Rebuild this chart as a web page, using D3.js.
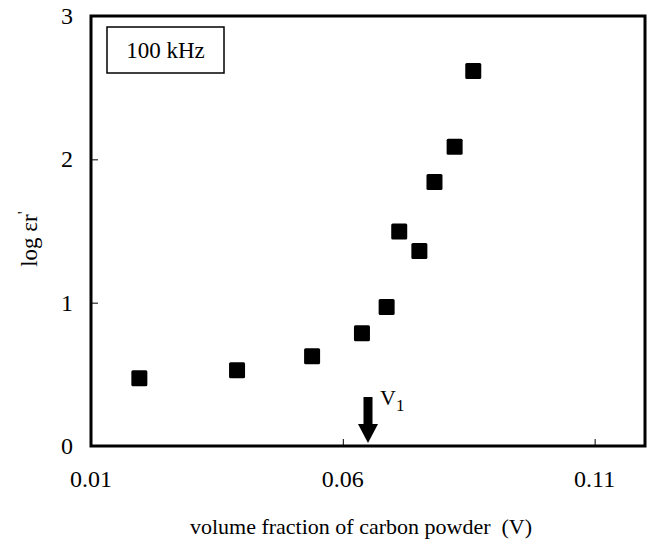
<!DOCTYPE html>
<html>
<head>
<meta charset="utf-8">
<script src="https://cdn.jsdelivr.net/npm/d3@7"></script>
<style>
  body { margin: 0; background: #fff; }
  svg text { font-family: "Liberation Serif", "Times New Roman", Tinos, "DejaVu Serif", serif; fill: #000; }
</style>
</head>
<body>
<div id="chart"></div>
<script>
// volume fraction of carbon powder
const fractions = [0.0196, 0.0390, 0.0539, 0.0638, 0.0687, 0.0712, 0.0752, 0.0782, 0.0822, 0.0859];
// log of relative permittivity at 100 kHz
const logEps = [0.473, 0.529, 0.626, 0.787, 0.969, 1.497, 1.36, 1.841, 2.088, 2.617];
const xTicks = [0.01, 0.06, 0.11];
const yTicks = [0, 1, 2, 3];
const v1 = 0.065;

const width = 650, height = 547;
const margin = { top: 16, right: 5, bottom: 101, left: 91 };

const svg = d3.select("#chart")
  .append("svg")
  .attr("width", width)
  .attr("height", height);

const x = d3.scaleLinear().domain([0.01, 0.12]).range([margin.left, width - margin.right]);
const y = d3.scaleLinear().domain([0, 3]).range([height - margin.bottom, margin.top]);

// inward ticks
const xAxis = d3.axisTop(x).tickValues(xTicks).tickSize(7).tickFormat("");
const yAxis = d3.axisRight(y).tickValues(yTicks).tickSize(7).tickFormat("");

svg.append("g")
  .attr("transform", `translate(0,${y(0)})`)
  .call(xAxis)
  .call(g => g.select(".domain").remove());
svg.append("g")
  .attr("transform", `translate(${x(0.01)},0)`)
  .call(yAxis)
  .call(g => g.select(".domain").remove());

// frame
svg.append("rect")
  .attr("x", x(0.01))
  .attr("y", y(3))
  .attr("width", x(0.12) - x(0.01))
  .attr("height", y(0) - y(3))
  .attr("fill", "none")
  .attr("stroke", "#000")
  .attr("stroke-width", 3);

// tick labels
svg.selectAll(".xlab").data(xTicks).enter()
  .append("text")
  .attr("x", d => x(d))
  .attr("y", y(0) + 41)
  .attr("text-anchor", "middle")
  .style("font-size", "24px")
  .text(d => d3.format(".2f")(d));

svg.selectAll(".ylab").data(yTicks).enter()
  .append("text")
  .attr("x", x(0.01) - 24)
  .attr("y", d => y(d) + 8)
  .attr("text-anchor", "middle")
  .style("font-size", "24px")
  .text(d => d);

// axis titles
svg.append("text")
  .attr("x", 361)
  .attr("y", 534)
  .attr("text-anchor", "middle")
  .attr("xml:space", "preserve")
  .style("font-size", "22px")
  .text("volume fraction of carbon powder  (V)");

const yt = svg.append("text")
  .attr("transform", `translate(37,${(y(0) + y(3)) / 2 + 8}) rotate(-90)`)
  .attr("text-anchor", "middle")
  .style("font-size", "23px");
yt.append("tspan").text("log εr");
yt.append("tspan").attr("font-size", "17px").attr("dy", -8).text("'");

// frequency box
svg.append("rect")
  .attr("x", 107).attr("y", 27)
  .attr("width", 117).attr("height", 46)
  .attr("fill", "none").attr("stroke", "#000").attr("stroke-width", 1.5);
svg.append("text")
  .attr("x", 165.5).attr("y", 58)
  .attr("text-anchor", "middle")
  .style("font-size", "23px")
  .text("100 kHz");

// data points
const sq = 16;
svg.selectAll(".pt").data(fractions).enter()
  .append("rect")
  .attr("x", d => x(d) - sq / 2)
  .attr("y", (d, i) => y(logEps[i]) - sq / 2)
  .attr("width", sq)
  .attr("height", sq)
  .attr("rx", 1.5)
  .attr("fill", "#000");

// V1 arrow
const ax = x(v1);
svg.append("rect")
  .attr("x", ax - 4.5).attr("y", 397)
  .attr("width", 9).attr("height", 28)
  .attr("fill", "#000");
svg.append("path")
  .attr("d", `M${ax - 10},424 L${ax + 10},424 L${ax},${y(0) - 3} Z`)
  .attr("fill", "#000");
const vt = svg.append("text")
  .attr("x", ax + 12).attr("y", 405)
  .style("font-size", "22px");
vt.append("tspan").text("V");
vt.append("tspan").attr("font-size", "17px").attr("dy", 6).text("1");
</script>
</body>
</html>
